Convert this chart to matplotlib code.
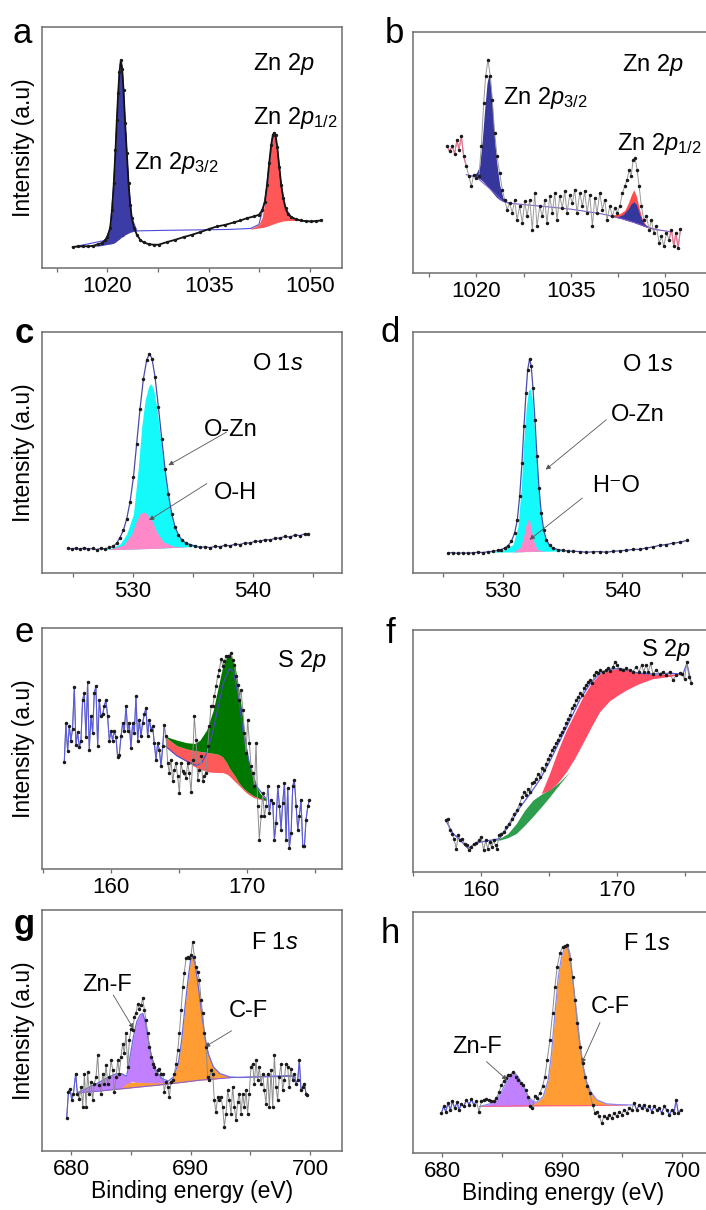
import numpy as np
import matplotlib.pyplot as plt

plt.rcParams['font.family'] = ['Liberation Sans', 'DejaVu Sans']
plt.rcParams['mathtext.fontset'] = 'custom'
plt.rcParams['mathtext.rm'] = 'Liberation Sans'
plt.rcParams['mathtext.it'] = 'Liberation Sans:italic'

# ---------------- panel a : Zn 2p ----------------
a_raw = [(1014.85, 8.69), (1015.69, 8.97), (1016.44, 9.10), (1017.18, 8.97), (1017.92, 9.24),
         (1018.66, 9.93), (1019.16, 10.34), (1019.65, 11.45), (1020.00, 12.83), (1020.40, 16.55),
         (1020.69, 24.14), (1020.94, 35.17), (1021.19, 48.97), (1021.39, 61.38), (1021.58, 72.41),
         (1021.78, 81.38), (1021.98, 86.21), (1022.18, 82.76), (1022.38, 73.79), (1022.62, 60.0),
         (1022.87, 47.59), (1023.12, 35.17), (1023.37, 26.21), (1023.61, 20.69), (1023.96, 16.55),
         (1024.36, 13.79), (1024.85, 11.72), (1025.35, 10.62), (1026.09, 9.93), (1026.83, 9.66),
         (1027.57, 9.66), (1028.81, 10.76), (1030.05, 11.72), (1031.29, 12.83), (1032.52, 13.79),
         (1033.76, 14.90), (1035.00, 16.14), (1036.24, 17.24), (1037.48, 17.93), (1038.71, 18.90),
         (1039.70, 19.72), (1040.69, 20.69), (1041.68, 21.38), (1042.43, 22.07), (1042.92, 23.86),
         (1043.32, 27.59), (1043.66, 34.48), (1043.96, 43.45), (1044.26, 51.03), (1044.50, 55.17),
         (1044.70, 56.14), (1044.90, 55.17), (1045.15, 50.34), (1045.45, 42.07), (1045.74, 34.48),
         (1046.04, 28.97), (1046.39, 24.83), (1046.73, 22.48), (1047.23, 21.10), (1047.87, 20.28),
         (1048.61, 19.72), (1049.36, 19.45), (1050.10, 19.31), (1050.84, 19.45), (1051.58, 19.72)]
# (energy, background, top)
a_p32 = [(1014.85, 8.69, 8.69), (1017.92, 9.0, 9.24), (1018.91, 9.2, 10.0), (1019.65, 9.6, 11.45),
         (1020.00, 9.8, 12.83), (1020.40, 9.9, 16.55), (1020.69, 10.1, 24.14), (1020.94, 10.3, 35.17),
         (1021.19, 10.7, 48.97), (1021.39, 11.2, 61.38), (1021.58, 11.6, 72.41), (1021.78, 12.0, 81.38),
         (1021.98, 12.6, 86.21), (1022.18, 12.9, 82.76), (1022.38, 13.1, 73.79), (1022.62, 13.8, 60.0),
         (1022.87, 14.1, 47.59), (1023.12, 14.5, 35.17), (1023.37, 14.8, 26.21), (1023.61, 15.0, 20.69),
         (1023.96, 15.3, 16.8), (1024.36, 15.4, 15.4)]
a_p12 = [(1041.19, 16.1, 16.4), (1041.68, 16.3, 16.9), (1042.43, 16.6, 18.0), (1042.92, 16.8, 21.0),
         (1043.32, 17.0, 27.59), (1043.66, 17.3, 34.48), (1043.96, 17.6, 43.45), (1044.26, 18.0, 51.03),
         (1044.50, 18.2, 55.17), (1044.70, 18.4, 56.14), (1044.90, 18.6, 55.17), (1045.15, 18.8, 50.34),
         (1045.45, 19.1, 42.07), (1045.74, 19.3, 34.48), (1046.04, 19.5, 28.97), (1046.39, 19.6, 24.83),
         (1046.73, 19.7, 22.48), (1047.23, 19.7, 21.10), (1047.87, 19.7, 20.28), (1048.61, 19.7, 19.72)]
a_fit = [(1014.85, 8.69), (1019.65, 11.45), (1020.40, 16.55), (1020.94, 35.17), (1021.39, 61.38),
         (1021.78, 81.38), (1021.98, 86.21), (1022.18, 82.76), (1022.62, 60.0), (1023.12, 35.17),
         (1023.61, 20.69), (1024.36, 15.4), (1028.0, 15.6), (1033.0, 15.8), (1038.0, 16.0),
         (1041.19, 16.4), (1042.43, 18.0), (1043.32, 27.59), (1043.96, 43.45), (1044.50, 55.17),
         (1044.70, 56.14), (1045.15, 50.34), (1045.74, 34.48), (1046.39, 24.83), (1047.23, 21.10),
         (1048.61, 19.72), (1050.10, 19.31), (1051.58, 19.72)]

# ---------------- panel b : Zn 2p ----------------
b_raw = [(1015.34, 52.6), (1015.76, 50.5), (1016.18, 52.6), (1016.56, 49.5), (1016.93, 55.3),
         (1017.24, 51.2), (1017.62, 56.7), (1017.99, 48.4), (1018.41, 44.3), (1018.83, 40.1),
         (1019.21, 36.0), (1019.58, 40.8), (1020.00, 39.4), (1020.42, 40.1), (1020.79, 52.6),
         (1021.17, 70.5), (1021.48, 81.6), (1021.85, 88.5), (1022.23, 81.6), (1022.54, 71.9),
         (1022.91, 58.1), (1023.29, 48.4), (1023.71, 41.5), (1024.13, 34.6), (1024.50, 30.4),
         (1024.88, 26.3), (1025.30, 29.0), (1025.72, 24.9), (1026.09, 30.4), (1026.47, 22.1),
         (1026.89, 27.7), (1027.31, 20.7), (1027.68, 29.7), (1028.06, 23.5), (1028.48, 30.4),
         (1028.90, 18.0), (1029.27, 33.2), (1029.64, 19.4), (1030.07, 27.7), (1030.49, 23.5),
         (1030.86, 30.4), (1031.23, 20.7), (1031.66, 31.8), (1032.08, 24.9), (1032.45, 33.2),
         (1032.82, 22.1), (1033.25, 31.8), (1033.67, 27.0), (1034.04, 33.9), (1034.41, 24.9),
         (1034.84, 32.5), (1035.26, 29.0), (1035.63, 34.6), (1036.00, 24.9), (1036.43, 33.2),
         (1036.85, 27.7), (1037.22, 33.9), (1037.59, 24.9), (1038.02, 32.5), (1038.44, 19.4),
         (1038.81, 31.1), (1039.18, 24.9), (1039.61, 33.2), (1040.03, 26.3), (1040.40, 30.4),
         (1040.77, 22.1), (1041.20, 27.7), (1041.62, 23.5), (1041.99, 27.0), (1042.36, 24.9),
         (1042.79, 27.7), (1043.21, 33.2), (1043.58, 36.0), (1043.95, 38.7), (1044.27, 42.9),
         (1044.59, 40.1), (1044.91, 47.0), (1045.22, 47.7), (1045.54, 42.9), (1045.86, 36.0),
         (1046.23, 27.7), (1046.60, 22.1), (1047.03, 23.5), (1047.45, 18.0), (1047.82, 22.1),
         (1048.19, 16.6), (1048.62, 19.4), (1049.04, 12.4), (1049.41, 15.2), (1049.78, 11.1),
         (1050.21, 16.6), (1050.63, 13.8), (1051.00, 18.0), (1051.37, 11.1), (1051.69, 16.6),
         (1052.06, 10.4), (1052.43, 18.3)]
b_p32 = [(1018.41, 40.8, 40.8), (1019.21, 40.4, 40.5), (1020.00, 39.8, 41.5), (1020.53, 39.1, 44.3),
         (1020.95, 38.3, 55.3), (1021.32, 37.3, 67.8), (1021.70, 36.2, 78.8), (1022.01, 35.3, 82.7),
         (1022.38, 34.0, 76.1), (1022.76, 32.8, 60.9), (1023.18, 31.5, 47.0), (1023.71, 30.4, 36.6),
         (1024.24, 29.7, 31.1), (1025.03, 29.0, 29.3), (1025.83, 28.8, 28.8)]
b_p12_red = [(1041.20, 23.5, 23.8), (1042.79, 22.8, 24.6), (1043.58, 22.1, 26.0), (1044.11, 21.7, 28.8),
             (1044.64, 21.3, 32.5), (1045.01, 21.0, 34.6), (1045.44, 20.6, 31.8), (1045.86, 20.2, 27.0),
             (1046.39, 19.6, 22.1), (1047.03, 19.1, 19.6), (1048.62, 18.0, 18.3), (1050.47, 17.3, 17.3)]
b_p12_blue = [(1042.26, 23.0, 23.2), (1043.32, 22.4, 24.2), (1044.11, 21.7, 26.6), (1044.64, 21.3, 28.8),
              (1045.01, 21.0, 29.5), (1045.44, 20.6, 28.4), (1045.97, 20.1, 24.2), (1046.60, 19.5, 20.5),
              (1047.56, 18.5, 18.8), (1049.15, 17.7, 17.7)]
b_bg = [(1018.41, 40.8), (1020.00, 39.8), (1022.01, 35.3), (1024.24, 29.7), (1025.83, 28.8),
        (1030.0, 27.8), (1035.0, 26.5), (1040.0, 24.5), (1042.79, 22.8), (1045.01, 21.0),
        (1047.03, 19.1), (1048.62, 18.0), (1050.47, 17.3), (1051.0, 16.8)]

# ---------------- panel c : O 1s ----------------
c_raw = [(524.58, 10.4), (524.92, 10.0), (525.28, 10.3), (525.61, 9.8), (525.94, 10.5), (526.31, 9.9),
         (526.67, 10.2), (527.00, 9.7), (527.36, 10.3), (527.69, 10.0), (528.06, 10.6), (528.39, 11.1),
         (528.67, 12.4), (528.94, 14.7), (529.22, 17.7), (529.50, 22.5), (529.78, 29.5), (530.06, 39.8),
         (530.33, 53.7), (530.61, 68.2), (530.89, 80.6), (531.17, 88.5), (531.39, 91.0), (531.61, 88.9),
         (531.86, 81.3), (532.14, 68.9), (532.42, 55.7), (532.69, 43.3), (532.97, 32.9), (533.25, 24.6),
         (533.53, 19.1), (533.81, 15.9), (534.08, 13.8), (534.44, 12.4), (534.78, 11.8), (535.19, 11.2),
         (535.61, 10.6), (536.03, 10.9), (536.44, 10.5), (536.86, 11.1), (537.28, 10.9), (537.69, 11.5),
         (538.11, 11.3), (538.53, 12.0), (538.94, 11.8), (539.36, 12.5), (539.78, 12.4), (540.19, 13.2),
         (540.61, 13.1), (541.03, 13.9), (541.44, 13.7), (541.86, 14.4), (542.28, 14.5), (542.69, 15.2),
         (543.11, 14.9), (543.53, 15.8), (543.94, 15.5), (544.36, 16.3), (544.64, 16.1)]
c_ozn = [(526.72, 9.7, 9.7), (528.11, 9.75, 10.1), (528.94, 9.8, 12.0), (529.50, 9.9, 16.2),
         (530.06, 9.96, 24.5), (530.47, 10.0, 44.0), (530.75, 10.1, 60.6), (531.03, 10.1, 71.6),
         (531.31, 10.2, 77.2), (531.50, 10.2, 78.6), (531.72, 10.2, 76.5), (532.00, 10.2, 68.9),
         (532.28, 10.3, 57.8), (532.56, 10.4, 46.7), (532.83, 10.4, 35.7), (533.11, 10.5, 27.4),
         (533.39, 10.6, 20.5), (533.81, 10.6, 15.6), (534.36, 10.8, 12.9), (535.06, 11.0, 11.8),
         (535.75, 11.2, 11.2)]
c_oh = [(528.11, 9.7, 10.0), (529.22, 9.8, 11.5), (529.92, 9.9, 16.3), (530.33, 9.96, 21.9),
        (530.61, 10.0, 24.6), (530.89, 10.1, 25.3), (531.17, 10.1, 24.6), (531.58, 10.2, 21.9),
        (532.00, 10.2, 17.0), (532.56, 10.4, 12.9), (533.39, 10.6, 11.1), (534.50, 10.8, 10.8)]

# ---------------- panel d : O 1s ----------------
d_raw = [(525.39, 8.3), (525.81, 8.5), (526.23, 8.1), (526.65, 8.4), (527.07, 8.2), (527.49, 8.4),
         (527.91, 8.6), (528.32, 8.5), (528.74, 8.8), (529.16, 9.0), (529.58, 9.4), (529.86, 9.7),
         (530.14, 10.4), (530.42, 11.3), (530.70, 13.1), (530.98, 16.6), (531.20, 22.1), (531.40, 31.8),
         (531.59, 45.6), (531.76, 60.9), (531.93, 74.7), (532.07, 84.4), (532.23, 88.8), (532.37, 85.8),
         (532.51, 76.8), (532.68, 63.6), (532.85, 48.4), (533.02, 35.3), (533.21, 24.9), (533.41, 18.0),
         (533.63, 13.8), (533.91, 11.5), (534.19, 10.4), (534.61, 9.7), (535.03, 9.4), (535.45, 9.1),
         (535.87, 9.0), (536.42, 8.9), (536.98, 8.6), (537.54, 8.8), (538.10, 8.9), (538.66, 8.6),
         (539.22, 9.0), (539.78, 9.2), (540.34, 9.4), (540.89, 9.8), (541.45, 9.8), (542.01, 10.4),
         (542.57, 10.8), (543.13, 11.5), (543.69, 11.8), (544.25, 12.4), (544.80, 12.7), (545.45, 13.6)]
d_ozn = [(528.60, 8.6, 8.6), (530.00, 8.7, 9.4), (530.84, 8.7, 11.8), (531.26, 8.8, 19.4),
         (531.54, 8.8, 36.0), (531.73, 8.9, 53.9), (531.96, 8.9, 69.2), (532.15, 8.9, 76.1),
         (532.29, 8.9, 76.3), (532.46, 9.0, 72.0), (532.65, 9.0, 58.1), (532.88, 9.0, 41.5),
         (533.07, 9.0, 29.0), (533.30, 9.0, 19.4), (533.58, 9.0, 13.8), (534.05, 9.1, 10.8),
         (534.75, 9.1, 9.7), (535.87, 9.3, 9.3)]
d_oh = [(530.84, 8.7, 8.7), (531.40, 8.8, 10.4), (531.68, 8.8, 13.8), (531.90, 8.9, 19.4),
        (532.09, 8.9, 22.1), (532.23, 8.9, 21.4), (532.43, 9.0, 16.6), (532.65, 9.0, 11.8),
        (532.93, 9.0, 9.7), (533.49, 9.0, 9.0)]

# ---------------- panel e : S 2p ----------------
e_raw = [(156.56, 44.3), (156.68, 60.4), (156.81, 48.8), (156.93, 59.3), (157.05, 53.3), (157.17, 58.2),
         (157.30, 75.5), (157.42, 51.3), (157.54, 56.8), (157.67, 50.6), (157.79, 53.3), (157.91, 70.1),
         (158.03, 72.9), (158.16, 54.7), (158.28, 77.6), (158.40, 49.5), (158.53, 63.5), (158.65, 56.4),
         (158.77, 72.9), (158.89, 75.9), (159.02, 50.9), (159.14, 70.1), (159.26, 63.5), (159.39, 64.2),
         (159.51, 67.8), (159.63, 70.1), (159.75, 63.5), (159.88, 53.3), (160.00, 57.3), (160.12, 53.3),
         (160.25, 57.4), (160.37, 54.6), (160.49, 46.6), (160.61, 47.3), (160.74, 55.0), (160.86, 60.6),
         (160.98, 57.1), (161.11, 67.8), (161.23, 57.4), (161.35, 60.6), (161.47, 50.2), (161.60, 60.6),
         (161.72, 56.4), (161.84, 71.6), (161.97, 53.3), (162.09, 62.0), (162.21, 55.0), (162.33, 60.6),
         (162.46, 64.2), (162.58, 66.9), (162.70, 55.0), (162.83, 62.0), (162.95, 57.8), (163.07, 59.2),
         (163.19, 52.3), (163.32, 45.4), (163.44, 52.3), (163.56, 49.5), (163.69, 42.6), (163.81, 50.9),
         (163.93, 59.9), (164.05, 55.0), (164.18, 44.0), (164.30, 39.8), (164.42, 45.4), (164.55, 36.4),
         (164.67, 41.2), (164.79, 44.0), (164.91, 38.5), (165.04, 31.5), (165.16, 44.0), (165.28, 40.5),
         (165.41, 39.8), (165.53, 37.8), (165.65, 44.0), (165.77, 39.8), (165.90, 31.8), (166.02, 45.4),
         (166.14, 63.5), (166.27, 53.6), (166.39, 37.1), (166.51, 41.2), (166.63, 46.8), (166.76, 36.4),
         (166.88, 38.7), (167.00, 39.8), (167.13, 50.9), (167.25, 59.2), (167.37, 67.5), (167.49, 67.5),
         (167.62, 71.6), (167.74, 75.8), (167.86, 80.0), (167.99, 82.7), (168.11, 87.1), (168.23, 84.1),
         (168.35, 86.2), (168.48, 88.2), (168.60, 88.2), (168.72, 88.2), (168.85, 89.6), (168.97, 86.9),
         (169.09, 84.8), (169.21, 80.0), (169.34, 76.5), (169.46, 70.3), (169.58, 74.4), (169.71, 66.1),
         (169.83, 56.4), (169.95, 48.1), (170.07, 62.0), (170.20, 52.3), (170.32, 42.6), (170.44, 39.8),
         (170.57, 34.3), (170.69, 52.3), (170.81, 26.0), (170.93, 12.2), (171.06, 21.9), (171.18, 31.5),
         (171.30, 21.9), (171.43, 26.0), (171.55, 34.3), (171.67, 23.2), (171.79, 28.8), (171.92, 27.4),
         (172.04, 12.2), (172.16, 19.1), (172.29, 34.3), (172.41, 26.0), (172.53, 16.3), (172.65, 27.4),
         (172.78, 35.7), (172.90, 12.2), (173.02, 33.5), (173.14, 8.7), (173.27, 14.9), (173.39, 34.3),
         (173.51, 37.1), (173.64, 26.0), (173.76, 16.3), (173.88, 21.9), (174.00, 28.8), (174.13, 9.4),
         (174.25, 9.4), (174.37, 20.5), (174.50, 26.0), (174.62, 28.8)]
e_green = [(164.03, 54.7, 55.0), (164.84, 51.2, 53.5), (165.58, 49.8, 52.4), (166.19, 49.1, 52.1),
           (166.56, 48.8, 53.5), (167.05, 48.4, 57.7), (167.54, 48.0, 66.0), (167.91, 47.6, 75.7),
           (168.23, 46.5, 84.0), (168.53, 44.0, 88.1), (168.72, 41.9, 89.1), (168.89, 40.5, 88.1),
           (169.14, 38.5, 84.0), (169.39, 36.0, 75.7), (169.63, 34.3, 66.0), (169.88, 32.9, 54.9),
           (170.12, 31.8, 45.2), (170.49, 30.4, 36.9), (170.98, 29.2, 31.4), (171.47, 28.3, 28.6)]
e_red = [(164.03, 50.6, 54.7), (164.84, 47.2, 51.2), (165.58, 44.5, 49.8), (166.19, 42.4, 49.1),
         (166.56, 41.5, 48.8), (167.05, 40.4, 48.4), (167.54, 40.1, 48.0), (167.91, 40.0, 47.6),
         (168.23, 40.0, 46.5), (168.53, 39.4, 44.0), (168.72, 38.6, 41.9), (168.89, 37.6, 40.5),
         (169.14, 36.2, 38.5), (169.39, 34.9, 36.0), (169.63, 33.5, 34.3), (169.88, 32.1, 32.9),
         (170.12, 31.0, 31.8), (170.49, 29.7, 30.4), (170.98, 28.9, 29.2), (171.47, 28.2, 28.3)]
e_comp = [(164.03, 50.9), (164.84, 47.0), (165.58, 44.7), (166.31, 43.0), (166.68, 44.0), (167.05, 47.9),
          (167.54, 57.8), (167.91, 67.5), (168.28, 77.2), (168.72, 83.1), (169.02, 82.0), (169.39, 71.6),
          (169.75, 56.4), (170.25, 42.6), (170.74, 34.3), (171.47, 28.8)]

# ---------------- panel f : S 2p ----------------
f_raw = [(157.38, 21.4), (157.55, 22.1), (157.67, 17.2), (157.84, 15.9), (157.99, 13.8), (158.16, 9.7),
         (158.31, 15.2), (158.46, 13.1), (158.60, 13.8), (158.77, 11.7), (158.95, 11.0), (159.09, 9.0),
         (159.26, 10.3), (159.44, 11.7), (159.63, 12.0), (159.83, 13.1), (160.00, 14.5), (160.17, 9.0),
         (160.32, 13.1), (160.47, 9.7), (160.61, 12.4), (160.76, 10.3), (160.91, 13.1), (161.05, 11.0),
         (161.15, 9.7), (161.30, 15.2), (161.47, 15.9), (161.64, 16.6), (161.84, 18.6), (162.03, 20.0),
         (162.23, 22.1), (162.43, 24.1), (162.62, 25.5), (162.82, 28.3), (163.01, 31.0), (163.16, 33.1),
         (163.31, 31.7), (163.46, 34.5), (163.60, 33.1), (163.75, 36.6), (163.90, 37.2), (164.04, 38.6),
         (164.19, 40.7), (164.34, 39.3), (164.49, 42.8), (164.63, 42.1), (164.78, 44.8), (164.93, 46.9),
         (165.07, 48.3), (165.22, 50.3), (165.37, 51.7), (165.51, 53.1), (165.66, 54.5), (165.81, 56.6),
         (165.96, 57.9), (166.10, 59.3), (166.25, 61.4), (166.40, 63.4), (166.54, 64.8), (166.69, 67.6),
         (166.84, 69.0), (166.99, 71.0), (167.13, 72.4), (167.28, 73.8), (167.43, 73.1), (167.57, 75.9),
         (167.72, 77.2), (167.87, 78.6), (168.01, 79.3), (168.16, 77.9), (168.31, 81.4), (168.46, 82.8),
         (168.60, 82.1), (168.75, 83.4), (168.95, 82.8), (169.14, 83.4), (169.31, 84.1), (169.49, 83.2),
         (169.68, 84.8), (169.83, 86.9), (169.98, 85.5), (170.17, 83.7), (170.42, 83.4), (170.66, 84.1),
         (170.91, 83.4), (171.15, 82.8), (171.40, 84.8), (171.59, 82.8), (171.79, 85.5), (171.94, 82.8),
         (172.13, 85.5), (172.28, 82.8), (172.45, 86.2), (172.62, 81.9), (172.87, 83.4), (173.11, 81.9),
         (173.36, 82.8), (173.60, 81.4), (173.85, 82.8), (174.09, 79.3), (174.34, 81.4), (174.58, 82.1),
         (174.78, 81.8), (174.95, 79.6), (175.12, 86.9), (175.27, 80.7), (175.44, 78.2)]
f_red = [(164.41, 32.4, 32.4), (165.02, 33.8, 40.7), (165.64, 37.0, 50.3), (166.25, 41.4, 58.6),
         (166.86, 46.9, 65.5), (167.48, 53.4, 72.5), (168.09, 60.0, 78.0), (168.70, 66.2, 81.8),
         (169.44, 70.8, 83.4), (170.05, 73.1, 84.1), (170.66, 75.2, 83.7), (171.15, 76.6, 82.8),
         (171.64, 77.9, 82.1), (172.62, 79.9, 81.8), (173.85, 80.8, 81.8), (174.83, 81.8, 81.8)]
f_green = [(160.74, 13.1, 13.1), (161.35, 13.2, 13.9), (161.96, 14.2, 15.9), (162.57, 15.9, 20.0),
           (163.19, 19.3, 25.5), (163.80, 23.0, 29.7), (164.41, 26.9, 32.1), (165.02, 31.0, 34.1),
           (165.76, 36.3, 37.2), (166.50, 41.4, 41.4)]
f_fit = [(157.38, 21.4), (157.92, 15.9), (158.41, 13.4), (159.02, 9.7), (159.63, 12.0), (160.37, 12.8),
         (161.35, 13.8), (162.08, 19.5), (162.82, 26.5), (163.55, 32.0), (164.29, 38.0), (165.02, 45.5),
         (165.76, 54.0), (166.50, 62.5), (167.23, 71.0), (167.97, 77.5), (168.70, 82.0), (169.44, 83.7),
         (170.17, 84.1), (170.91, 83.2), (171.64, 82.1), (172.62, 81.8), (173.85, 82.1), (174.83, 81.8),
         (175.12, 86.2), (175.44, 78.2)]

# ---------------- panel g : F 1s ----------------
g_raw = [(679.64, 13.9), (679.78, 24.5), (679.92, 25.9), (680.06, 21.1), (680.20, 23.8), (680.39, 32.1),
         (680.53, 23.8), (680.70, 21.7), (680.84, 26.6), (680.98, 18.3), (681.12, 32.1), (681.26, 18.3),
         (681.39, 32.8), (681.53, 23.8), (681.67, 28.7), (681.81, 21.1), (681.95, 28.0), (682.09, 30.7),
         (682.23, 39.8), (682.37, 27.3), (682.51, 23.8), (682.65, 32.1), (682.79, 28.0), (682.93, 35.6),
         (683.07, 28.0), (683.21, 30.7), (683.35, 37.7), (683.49, 33.5), (683.63, 24.5), (683.77, 30.7),
         (683.91, 37.7), (684.04, 32.1), (684.18, 39.1), (684.32, 44.6), (684.46, 40.5), (684.60, 48.8),
         (684.74, 34.9), (684.88, 46.0), (685.02, 50.8), (685.16, 50.1), (685.30, 55.7), (685.44, 57.1),
         (685.58, 61.2), (685.72, 59.1), (685.86, 60.5), (686.00, 63.3), (686.14, 58.4), (686.28, 54.3),
         (686.42, 48.8), (686.56, 43.2), (686.69, 39.1), (686.83, 36.3), (686.97, 34.9), (687.11, 32.1),
         (687.25, 33.5), (687.39, 34.2), (687.53, 32.1), (687.67, 32.1), (687.81, 24.5), (687.95, 28.7),
         (688.09, 26.6), (688.23, 22.4), (688.37, 28.7), (688.51, 29.4), (688.65, 32.1), (688.79, 36.3),
         (688.93, 41.8), (689.07, 48.8), (689.21, 58.4), (689.35, 68.1), (689.48, 73.7), (689.62, 79.9),
         (689.76, 80.6), (689.90, 79.9), (690.04, 81.3), (690.18, 86.8), (690.32, 80.6), (690.46, 76.5),
         (690.60, 74.4), (690.74, 70.9), (690.88, 62.6), (691.02, 57.1), (691.16, 48.8), (691.30, 43.2),
         (691.44, 30.7), (691.58, 29.4), (691.72, 33.5), (691.86, 32.1), (691.99, 21.1), (692.13, 16.2),
         (692.27, 22.4), (692.41, 21.1), (692.55, 22.4), (692.69, 18.3), (692.83, 10.0), (692.97, 15.5),
         (693.11, 25.2), (693.25, 21.1), (693.39, 15.5), (693.53, 26.6), (693.67, 18.3), (693.81, 12.7),
         (693.95, 20.4), (694.09, 23.8), (694.23, 15.5), (694.37, 23.8), (694.51, 18.3), (694.65, 25.2),
         (694.78, 15.5), (694.92, 23.8), (695.06, 34.9), (695.20, 36.3), (695.34, 28.0), (695.48, 37.7),
         (695.62, 29.4), (695.76, 34.9), (695.90, 28.0), (696.04, 32.1), (696.18, 25.2), (696.32, 19.7),
         (696.46, 32.1), (696.60, 18.3), (696.74, 33.5), (696.88, 18.3), (697.02, 39.8), (697.16, 26.6),
         (697.29, 21.1), (697.43, 30.7), (697.57, 36.3), (697.71, 25.2), (697.85, 29.4), (697.99, 36.3),
         (698.13, 34.9), (698.27, 26.6), (698.41, 34.2), (698.55, 29.4), (698.69, 32.1), (698.83, 28.0),
         (698.97, 29.4), (699.11, 37.7), (699.25, 25.2), (699.39, 26.6), (699.53, 28.0), (699.67, 23.8),
         (699.78, 23.1)]
g_cf_broad = [(682.43, 24.9, 25.2), (683.82, 25.6, 26.0), (684.66, 26.0, 28.4), (685.77, 26.6, 28.8),
              (687.45, 27.4, 28.4), (688.56, 28.1, 28.4), (689.68, 28.7, 29.1), (690.80, 29.4, 29.8),
              (692.19, 29.9, 30.3)]
g_znf_broad = [(680.61, 24.1, 24.4), (681.59, 24.5, 26.6), (682.43, 24.9, 28.7), (683.26, 25.5, 31.0),
               (683.82, 25.8, 32.1), (684.24, 26.3, 32.1), (684.66, 28.0, 31.0), (685.08, 28.7, 29.4)]
g_znf = [(684.66, 29.4, 31.0), (684.94, 29.0, 39.1), (685.22, 28.7, 47.4), (685.50, 28.5, 53.6),
         (685.77, 28.5, 56.4), (686.00, 28.4, 57.1), (686.22, 28.4, 53.6), (686.47, 28.3, 46.0),
         (686.75, 28.3, 39.1), (687.11, 28.3, 33.5), (687.59, 28.3, 30.1), (688.15, 28.1, 28.3)]
g_cf = [(688.01, 28.0, 28.0), (688.56, 28.3, 30.7), (688.98, 28.5, 36.3), (689.26, 28.7, 46.0),
        (689.54, 28.8, 59.8), (689.82, 29.0, 72.3), (690.01, 29.1, 79.2), (690.18, 29.2, 80.6),
        (690.38, 29.4, 77.8), (690.66, 29.5, 68.1), (690.93, 29.6, 57.1), (691.21, 29.8, 47.4),
        (691.49, 29.9, 40.4), (691.91, 30.1, 34.9), (692.47, 30.2, 32.1), (693.31, 30.5, 30.7),
        (694.14, 30.6, 30.6)]
g_fit = [(680.61, 24.4), (681.59, 26.6), (682.43, 28.7), (683.26, 31.0), (683.82, 32.1), (684.24, 32.1),
         (684.66, 31.0), (684.94, 39.1), (685.22, 47.4), (685.50, 53.6), (685.77, 56.4), (686.00, 57.1),
         (686.22, 53.6), (686.47, 46.0), (686.75, 39.1), (687.11, 33.5), (687.59, 30.1), (688.15, 29.0),
         (688.56, 30.7), (688.98, 36.3), (689.26, 46.0), (689.54, 59.8), (689.82, 72.3), (690.01, 79.2),
         (690.18, 80.6), (690.38, 77.8), (690.66, 68.1), (690.93, 57.1), (691.21, 47.4), (691.49, 40.4),
         (691.91, 34.9), (692.47, 32.1), (693.31, 30.7), (694.14, 30.5), (696.37, 31.0), (698.47, 31.3)]
g_bg = [(680.61, 24.1), (682.43, 24.9), (685.22, 26.3), (688.01, 27.7), (690.80, 29.4), (693.59, 30.5),
        (698.61, 31.0)]

# ---------------- panel h : F 1s ----------------
h_raw = [(679.92, 16.6), (680.11, 19.3), (680.28, 17.2), (680.47, 20.7), (680.67, 17.9), (680.84, 21.4),
         (681.03, 18.6), (681.23, 21.0), (681.39, 17.9), (681.59, 20.4), (681.78, 19.3), (682.01, 22.1),
         (682.23, 20.0), (682.42, 22.3), (682.62, 20.0), (682.84, 21.4), (683.06, 17.2), (683.26, 21.4),
         (683.45, 22.1), (683.68, 22.3), (683.90, 22.1), (684.09, 21.4), (684.29, 21.4), (684.51, 22.8),
         (684.74, 25.5), (684.93, 28.3), (685.13, 29.7), (685.29, 31.0), (685.49, 32.4), (685.68, 32.4),
         (685.91, 33.8), (686.13, 31.7), (686.32, 30.3), (686.52, 29.2), (686.74, 28.3), (686.96, 26.2),
         (687.16, 23.4), (687.35, 19.3), (687.52, 18.6), (687.72, 23.7), (687.91, 22.8), (688.13, 24.8),
         (688.36, 27.6), (688.55, 31.7), (688.75, 38.6), (688.97, 46.9), (689.19, 57.9), (689.39, 69.0),
         (689.58, 77.2), (689.81, 82.8), (690.03, 85.5), (690.22, 85.8), (690.42, 86.2), (690.64, 80.7),
         (690.86, 73.1), (691.06, 63.4), (691.25, 53.8), (691.48, 44.1), (691.70, 37.2), (691.89, 31.7),
         (692.09, 27.6), (692.31, 24.8), (692.53, 20.0), (692.73, 16.6), (692.92, 17.2), (693.09, 15.2),
         (693.29, 12.4), (693.48, 15.2), (693.70, 14.5), (693.93, 15.9), (694.12, 14.5), (694.32, 16.6),
         (694.54, 15.2), (694.76, 17.2), (694.96, 15.9), (695.15, 17.9), (695.38, 16.6), (695.60, 18.6),
         (695.79, 17.9), (695.99, 20.7), (696.21, 17.9), (696.43, 20.0), (696.63, 18.6), (696.82, 20.0),
         (697.05, 17.9), (697.27, 19.3), (697.47, 17.2), (697.66, 19.3), (697.88, 17.9), (698.11, 18.6),
         (698.30, 16.6), (698.50, 19.3), (698.72, 17.9), (698.94, 15.9), (699.14, 17.9), (699.33, 16.6),
         (699.50, 22.1), (699.69, 16.6), (699.89, 17.9)]
h_znf = [(683.12, 19.3, 19.3), (683.96, 19.3, 20.4), (684.51, 19.3, 22.1), (684.93, 19.4, 25.5),
         (685.35, 19.4, 29.7), (685.68, 19.4, 32.4), (685.99, 19.4, 33.5), (686.32, 19.4, 31.7),
         (686.74, 19.4, 27.6), (687.16, 19.5, 23.4), (687.58, 19.5, 21.4), (687.99, 19.6, 20.4),
         (688.69, 19.7, 19.9)]
h_cf = [(687.30, 19.6, 19.7), (687.86, 19.6, 21.0), (688.41, 19.6, 23.4), (688.83, 19.6, 30.3),
        (689.11, 19.6, 41.4), (689.39, 19.6, 57.9), (689.67, 19.6, 73.1), (689.94, 19.6, 81.4),
        (690.22, 19.6, 85.5), (690.42, 19.6, 86.6), (690.64, 19.6, 82.8), (690.92, 19.6, 70.3),
        (691.20, 19.6, 57.9), (691.48, 19.6, 45.5), (691.75, 19.6, 35.9), (692.03, 19.6, 29.7),
        (692.37, 19.7, 25.5), (692.87, 19.7, 22.1), (693.70, 19.8, 20.4), (694.82, 19.9, 20.0),
        (695.38, 19.9, 19.9)]
h_fit = [(683.12, 19.3), (683.96, 20.4), (684.51, 22.1), (684.93, 25.5), (685.35, 29.7), (685.68, 32.4),
         (685.99, 33.5), (686.32, 31.7), (686.74, 27.6), (687.16, 23.4), (687.58, 21.4), (687.86, 21.0),
         (688.41, 23.4), (688.83, 30.3), (689.11, 41.4), (689.39, 57.9), (689.67, 73.1), (689.94, 81.4),
         (690.22, 85.5), (690.42, 86.6), (690.64, 82.8), (690.92, 70.3), (691.20, 57.9), (691.48, 45.5),
         (691.75, 35.9), (692.03, 29.7), (692.37, 25.5), (692.87, 22.1), (693.70, 20.4), (694.82, 20.0),
         (696.00, 19.9)]
h_bg = [(683.12, 19.3), (687.30, 19.6), (692.37, 19.7), (695.38, 19.9)]

# ------------------------------------------------------------
W, H = 706, 1210
fig = plt.figure(figsize=(W / 100, H / 100), dpi=100)
SPINE = '#6e6e6e'


def panel(box, xlim, major, minor, letter, lpos, bold=False, ylabel=True, xlabel=False):
    l, t, r, b = box
    ax = fig.add_axes([l / W, 1 - b / H, (r - l) / W, (b - t) / H])
    ax.set_xlim(*xlim)
    ax.set_ylim(0, 100)
    ax.set_xticks(major)
    ax.set_xticks(minor, minor=True)
    ax.set_yticks([])
    ax.tick_params(axis='x', which='both', direction='out', length=3, width=0.9,
                   color=SPINE, labelsize=16, pad=3)
    for s in ax.spines.values():
        s.set_color(SPINE)
        s.set_linewidth(1.1)
    if ylabel:
        ax.set_ylabel('Intensity (a.u)', fontsize=16.5, labelpad=5)
    if xlabel:
        ax.set_xlabel('Binding energy (eV)', fontsize=16.5, labelpad=0)
    fig.text(lpos[0] / W, 1 - lpos[1] / H, letter, fontsize=25,
             fontweight='bold' if bold else 'normal', ha='left', va='baseline')
    return ax


def fill(ax, pts, color, z=2):
    x, lo, hi = zip(*pts)
    ax.fill_between(x, lo, hi, color=color, lw=0, zorder=z)


def line(ax, pts, color, lw=0.8, z=3):
    x, y = zip(*pts)
    ax.plot(x, y, color=color, lw=lw, zorder=z)


def data(ax, pts, lc='#8c8c8c', lw=0.7, over=None, oc='#5a5ae0', ms=1.7):
    x, y = map(np.array, zip(*pts))
    ax.plot(x, y, color=lc, lw=lw, zorder=4)
    if over is not None:
        m = (x < over[0]) | (x > over[1])
        ax.plot(x, np.where(m, y, np.nan), color=oc, lw=0.8, zorder=4.5)
    ax.plot(x, y, ls='none', marker='o', ms=ms, mfc='#1a1a1a', mec='#1a1a1a', zorder=5)


def note(ax, s, xy, tip=None, start=None, size=17, ha='center'):
    ax.text(xy[0], xy[1], s, fontsize=size, ha=ha, va='center', zorder=6)
    if tip is not None:
        ax.annotate('', xy=tip, xytext=start, zorder=6,
                    arrowprops=dict(arrowstyle='-|>', color='#555555', lw=0.6,
                                    mutation_scale=7, shrinkA=0, shrinkB=0))


# a
ax = panel((42, 27, 342, 268), (1010.3, 1054.75), [1020, 1035, 1050], [1012.5, 1027.5, 1042.5], 'a', (13, 43))
fill(ax, a_p32, '#3c3ca6')
fill(ax, a_p12, '#ff5757')
line(ax, a_fit, '#4b4bd8', lw=0.8, z=3)
data(ax, a_raw, lc='#111111', lw=1.3, ms=1.4)
note(ax, r'Zn 2$\mathit{p}$', (1046.1, 84.8))
note(ax, r'Zn 2$\mathit{p}_{\mathrm{3/2}}$', (1023.9, 43.4), ha='left')
note(ax, r'Zn 2$\mathit{p}_{\mathrm{1/2}}$', (1041.6, 62.1), ha='left')

# b
ax = panel((413, 32, 713, 273), (1009.94, 1057.6), [1020, 1035, 1050], [1012.5, 1027.5, 1042.5], 'b', (385, 43), ylabel=False)
fill(ax, b_p32, '#35379c')
fill(ax, b_p12_red, '#ff4b4b')
fill(ax, b_p12_blue, '#35379c', z=2.5)
line(ax, b_bg, '#7a5ad0', lw=0.8)
data(ax, b_raw, lc='#9a9a9a', lw=0.7, over=(1018.5, 1050.3), oc='#f07090', ms=1.5)
note(ax, r'Zn 2$\mathit{p}$', (1048.1, 86.4))
note(ax, r'Zn 2$\mathit{p}_{\mathrm{3/2}}$', (1024.24, 72.6), ha='left')
note(ax, r'Zn 2$\mathit{p}_{\mathrm{1/2}}$', (1042.3, 53.7), ha='left')

# c
ax = panel((42, 332, 342, 573), (522.44, 547.44), [530, 540], [525, 535, 545], 'c', (15, 343), bold=True)
fill(ax, c_ozn, '#14fafa')
fill(ax, c_oh, '#ff88c8', z=2.5)
data(ax, c_raw, lc='#4a4aa8', lw=0.9, ms=1.5)
note(ax, r'O $\mathit{1s}$', (542.1, 86.6))
note(ax, 'O-Zn', (538.2, 59.2), tip=(532.97, 44.7), start=(537.83, 58.5))
note(ax, 'O-H', (538.53, 33.2), tip=(531.36, 21.9), start=(536.17, 37.1))

# d
ax = panel((413, 332, 713, 573), (522.46, 547.6), [530, 540], [525, 535, 545], 'd', (381, 342), ylabel=False)
fill(ax, d_ozn, '#14fafa')
fill(ax, d_oh, '#ff88c8', z=2.5)
data(ax, d_raw, lc='#4a4aa8', lw=0.9, ms=1.5)
note(ax, r'O $\mathit{1s}$', (542.15, 86.4))
note(ax, 'O-Zn', (541.31, 65.7), tip=(533.58, 42.9), start=(538.66, 63.6))
note(ax, 'H\u207bO', (539.5, 36.0), tip=(532.23, 13.8), start=(536.65, 31.1))

# e
ax = panel((42, 628, 342, 869), (154.92, 177.02), [160, 170], [155, 165, 175], 'e', (15, 642))
fill(ax, e_red, '#ff5a5a')
fill(ax, e_green, '#007800')
line(ax, e_comp, '#4a4ac8', lw=0.8, z=3)
data(ax, e_raw, lc='#8c8c8c', lw=0.7, over=(164.0, 171.5), oc='#5a5ae0', ms=1.5)
note(ax, r'S $\mathit{2p}$', (174.05, 86.2))

# f
ax = panel((413, 630, 713, 872), (154.98, 177.04), [160, 170], [155, 165, 175], 'f', (385, 643), ylabel=False)
fill(ax, f_green, '#2e9e4e')
fill(ax, f_red, '#ff4d66')
line(ax, f_fit, '#5a5ae0', lw=0.9, z=3)
data(ax, f_raw, lc='#8c8c8c', lw=0.7, ms=1.5)
note(ax, r'S $\mathit{2p}$', (173.6, 91.7))

# g
ax = panel((42, 910, 342, 1151), (677.57, 702.68), [680, 690, 700], [685, 695], 'g', (14, 934), bold=True, xlabel=True)
fill(ax, g_cf_broad, '#ff9c33')
fill(ax, g_znf_broad, '#c080ff')
fill(ax, g_znf, '#c080ff')
fill(ax, g_cf, '#ff9c33')
line(ax, g_bg, '#8a60d8', lw=0.8)
line(ax, g_fit, '#6a6ae0', lw=0.9)
data(ax, g_raw, lc='#8c8c8c', lw=0.7, over=(680.6, 698.5), oc='#5a5ae0', ms=1.5)
note(ax, r'F $\mathit{1s}$', (697.07, 86.1))
note(ax, 'Zn-F', (683.04, 68.8), tip=(685.22, 50.8), start=(683.54, 64.7))
note(ax, 'C-F', (694.84, 58.0), tip=(691.21, 43.2), start=(693.44, 49.9))

# h
ax = panel((413, 912, 713, 1153), (677.55, 702.58), [680, 690, 700], [685, 695], 'h', (381, 943), ylabel=False, xlabel=True)
fill(ax, h_znf, '#c080ff')
fill(ax, h_cf, '#ff9c33')
line(ax, h_bg, '#ff6080', lw=0.8)
line(ax, h_fit, '#8a8af0', lw=0.9)
data(ax, h_raw, lc='#8c8c8c', lw=0.7, over=(683.0, 695.8), oc='#5a5ae0', ms=1.5)
note(ax, r'F $\mathit{1s}$', (697.05, 86.9))
note(ax, 'Zn-F', (682.9, 44.1), tip=(685.4, 30.3), start=(683.68, 37.9))
note(ax, 'C-F', (693.98, 60.7), tip=(691.62, 37.2), start=(693.15, 54.1))

fig.savefig('out.png', dpi=100)
